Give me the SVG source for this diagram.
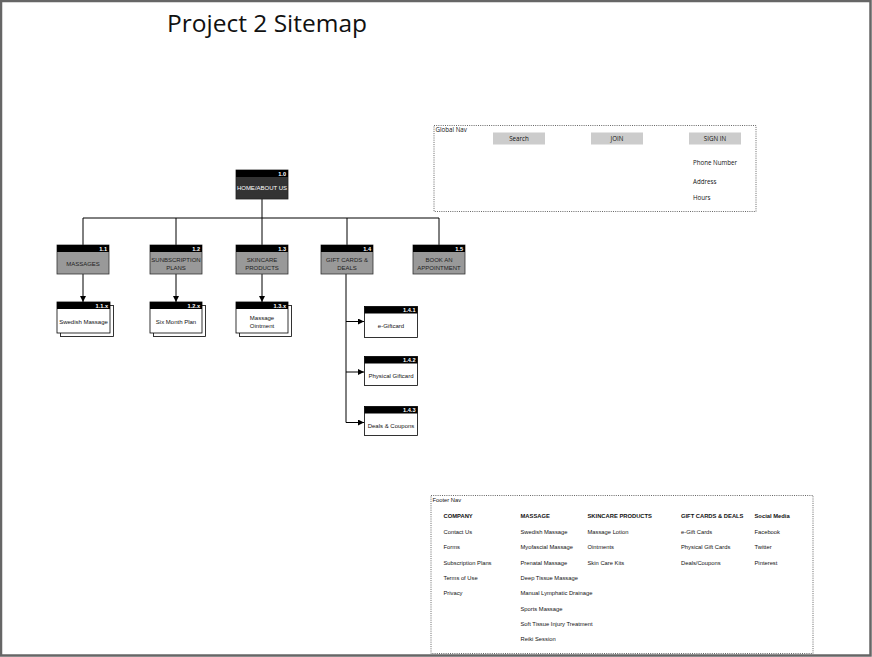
<svg xmlns="http://www.w3.org/2000/svg" width="872" height="657" viewBox="0 0 872 657">
<defs>
<style>
.hv{font-family:"Liberation Sans",Arial,Helvetica,sans-serif;}
.os{font-family:"Open Sans","Noto Sans",sans-serif;}
.hdr{fill:#000;}
.num{font-size:5.6px;font-weight:bold;fill:#fff;text-anchor:end;}
.lbl{font-size:6px;text-anchor:middle;}
.l1{fill:#999;stroke:#333;stroke-width:0.8;}
.card{fill:#fff;stroke:#000;stroke-width:0.8;}
.ln{stroke:#000;stroke-width:1;fill:none;}
.dot{fill:none;stroke:#666;stroke-width:1;stroke-dasharray:1 1.2;}
.btn{fill:#cccccc;}
.ft{font-size:5.8px;fill:#111;}
.fh{font-size:5.8px;font-weight:bold;fill:#111;}
.gn{font-size:6.2px;fill:#111;}
</style>
<marker id="arr" viewBox="0 0 8 8" refX="8" refY="4" markerWidth="6" markerHeight="6" orient="auto" markerUnits="userSpaceOnUse">
<path d="M0,0 L8,4 L0,8 Z" fill="#000"/>
</marker>
</defs>
<rect x="0" y="0" width="872" height="657" fill="#fff"/>
<rect x="1" y="1" width="869.5" height="654.5" fill="none" stroke="#666" stroke-width="2.5"/>
<text x="167" y="32" class="os" font-size="24.5" fill="#111">Project 2 Sitemap</text>

<g id="connectors">
<line class="ln" x1="262" y1="199" x2="262" y2="218"/>
<line class="ln" x1="83" y1="218" x2="439" y2="218"/>
<line class="ln" x1="83" y1="218" x2="83" y2="245"/>
<line class="ln" x1="176" y1="218" x2="176" y2="245"/>
<line class="ln" x1="262" y1="218" x2="262" y2="245"/>
<line class="ln" x1="347" y1="218" x2="347" y2="245"/>
<line class="ln" x1="439" y1="218" x2="439" y2="245"/>
<line class="ln" x1="83" y1="274" x2="83" y2="302" marker-end="url(#arr)"/>
<line class="ln" x1="176" y1="274" x2="176" y2="302" marker-end="url(#arr)"/>
<line class="ln" x1="262" y1="274" x2="262" y2="302" marker-end="url(#arr)"/>
<line class="ln" x1="346" y1="274" x2="346" y2="422.5"/>
<line class="ln" x1="346" y1="321.5" x2="364" y2="321.5" marker-end="url(#arr)"/>
<line class="ln" x1="346" y1="372" x2="364" y2="372" marker-end="url(#arr)"/>
<line class="ln" x1="346" y1="422.5" x2="364" y2="422.5" marker-end="url(#arr)"/>
</g>

<g id="n1_0">
<rect x="236" y="170" width="52" height="29" fill="#333" stroke="#222" stroke-width="0.8"/>
<rect x="236" y="170" width="52" height="7" class="hdr"/>
<text x="286" y="175.8" class="hv num">1.0</text>
<text x="262" y="190" class="hv lbl" fill="#fff">HOME/ABOUT US</text>
</g>

<g id="n1_1">
<rect x="57" y="245" width="52" height="29" class="l1"/>
<rect x="57" y="245" width="52" height="7" class="hdr"/>
<text x="107" y="250.8" class="hv num">1.1</text>
<text x="83" y="265.5" class="hv lbl" fill="#222">MASSAGES</text>
</g>
<g id="n1_2">
<rect x="150" y="245" width="52" height="29" class="l1"/>
<rect x="150" y="245" width="52" height="7" class="hdr"/>
<text x="200" y="250.8" class="hv num">1.2</text>
<text x="176" y="262" class="hv lbl" fill="#222">SUNBSCRIPTION</text>
<text x="176" y="269.5" class="hv lbl" fill="#222">PLANS</text>
</g>
<g id="n1_3">
<rect x="236" y="245" width="52" height="29" class="l1"/>
<rect x="236" y="245" width="52" height="7" class="hdr"/>
<text x="286" y="250.8" class="hv num">1.3</text>
<text x="262" y="262" class="hv lbl" fill="#222">SKINCARE</text>
<text x="262" y="269.5" class="hv lbl" fill="#222">PRODUCTS</text>
</g>
<g id="n1_4">
<rect x="321" y="245" width="52" height="29" class="l1"/>
<rect x="321" y="245" width="52" height="7" class="hdr"/>
<text x="371" y="250.8" class="hv num">1.4</text>
<text x="347" y="262" class="hv lbl" fill="#222">GIFT CARDS &amp;</text>
<text x="347" y="269.5" class="hv lbl" fill="#222">DEALS</text>
</g>
<g id="n1_5">
<rect x="413" y="245" width="52" height="29" class="l1"/>
<rect x="413" y="245" width="52" height="7" class="hdr"/>
<text x="463" y="250.8" class="hv num">1.5</text>
<text x="439" y="262" class="hv lbl" fill="#222">BOOK AN</text>
<text x="439" y="269.5" class="hv lbl" fill="#222">APPOINTMENT</text>
</g>

<g id="n1_1_x">
<rect x="60.5" y="305.5" width="53" height="31" class="card"/>
<rect x="57" y="302" width="53" height="31" class="card"/>
<rect x="57" y="302" width="53" height="7" class="hdr"/>
<text x="108" y="307.8" class="hv num">1.1.x</text>
<text x="83.5" y="323.5" class="hv lbl" fill="#111">Swedish Massage</text>
</g>
<g id="n1_2_x">
<rect x="153.5" y="305.5" width="52" height="31" class="card"/>
<rect x="150" y="302" width="52" height="31" class="card"/>
<rect x="150" y="302" width="52" height="7" class="hdr"/>
<text x="200" y="307.8" class="hv num">1.2.x</text>
<text x="176" y="323.5" class="hv lbl" fill="#111">Six Month Plan</text>
</g>
<g id="n1_3_x">
<rect x="239.5" y="305.5" width="52" height="31" class="card"/>
<rect x="236" y="302" width="52" height="31" class="card"/>
<rect x="236" y="302" width="52" height="7" class="hdr"/>
<text x="286" y="307.8" class="hv num">1.3.x</text>
<text x="262" y="320" class="hv lbl" fill="#111">Massage</text>
<text x="262" y="327.5" class="hv lbl" fill="#111">Ointment</text>
</g>

<g id="n1_4_1">
<rect x="364.5" y="306.5" width="53" height="31" class="card"/>
<rect x="364.5" y="306.5" width="53" height="7" class="hdr"/>
<text x="415.5" y="312.3" class="hv num">1.4.1</text>
<text x="391" y="328" class="hv lbl" fill="#111">e-Giftcard</text>
</g>
<g id="n1_4_2">
<rect x="364.5" y="356.5" width="53" height="29" class="card"/>
<rect x="364.5" y="356.5" width="53" height="7" class="hdr"/>
<text x="415.5" y="362.3" class="hv num">1.4.2</text>
<text x="391" y="377.5" class="hv lbl" fill="#111">Physical Giftcard</text>
</g>
<g id="n1_4_3">
<rect x="364.5" y="406.5" width="53" height="29" class="card"/>
<rect x="364.5" y="406.5" width="53" height="7" class="hdr"/>
<text x="415.5" y="412.3" class="hv num">1.4.3</text>
<text x="391" y="427.5" class="hv lbl" fill="#111">Deals &amp; Coupons</text>
</g>

<g id="global_nav">
<rect x="434" y="125.5" width="322" height="86" class="dot"/>
<text x="435.5" y="132" class="os gn">Global Nav</text>
<rect x="493" y="132.5" width="52" height="12" class="btn"/>
<text x="519" y="140.8" class="os gn" text-anchor="middle">Search</text>
<rect x="591" y="132.5" width="52" height="12" class="btn"/>
<text x="617" y="140.8" class="os gn" text-anchor="middle">JOIN</text>
<rect x="689" y="132.5" width="52" height="12" class="btn"/>
<text x="715" y="140.8" class="os gn" text-anchor="middle">SIGN IN</text>
<text x="693" y="165" class="os gn">Phone Number</text>
<text x="693" y="183.5" class="os gn">Address</text>
<text x="693" y="200" class="os gn">Hours</text>
</g>

<g id="footer_nav" class="hv">
<rect x="431" y="495.5" width="382" height="158" class="dot"/>
<text x="432.5" y="502" class="ft">Footer Nav</text>
<text x="443.5" y="518" class="fh">COMPANY</text>
<text x="443.5" y="534" class="ft">Contact Us</text>
<text x="443.5" y="549.3" class="ft">Forms</text>
<text x="443.5" y="564.6" class="ft">Subscription Plans</text>
<text x="443.5" y="580" class="ft">Terms of Use</text>
<text x="443.5" y="595.3" class="ft">Privacy</text>
<text x="520.5" y="518" class="fh">MASSAGE</text>
<text x="520.5" y="534" class="ft">Swedish Massage</text>
<text x="520.5" y="549.3" class="ft">Myofascial Massage</text>
<text x="520.5" y="564.6" class="ft">Prenatal Massage</text>
<text x="520.5" y="580" class="ft">Deep Tissue Massage</text>
<text x="520.5" y="595.3" class="ft">Manual Lymphatic Drainage</text>
<text x="520.5" y="610.6" class="ft">Sports Massage</text>
<text x="520.5" y="626" class="ft">Soft Tissue Injury Treatment</text>
<text x="520.5" y="641.3" class="ft">Reiki Session</text>
<text x="587.5" y="518" class="fh">SKINCARE PRODUCTS</text>
<text x="587.5" y="534" class="ft">Massage Lotion</text>
<text x="587.5" y="549.3" class="ft">Ointments</text>
<text x="587.5" y="564.6" class="ft">Skin Care Kits</text>
<text x="681" y="518" class="fh">GIFT CARDS &amp; DEALS</text>
<text x="681" y="534" class="ft">e-Gift Cards</text>
<text x="681" y="549.3" class="ft">Physical Gift Cards</text>
<text x="681" y="564.6" class="ft">Deals/Coupons</text>
<text x="754.5" y="518" class="fh">Social Media</text>
<text x="754.5" y="534" class="ft">Facebook</text>
<text x="754.5" y="549.3" class="ft">Twitter</text>
<text x="754.5" y="564.6" class="ft">Pinterest</text>
</g>
</svg>
